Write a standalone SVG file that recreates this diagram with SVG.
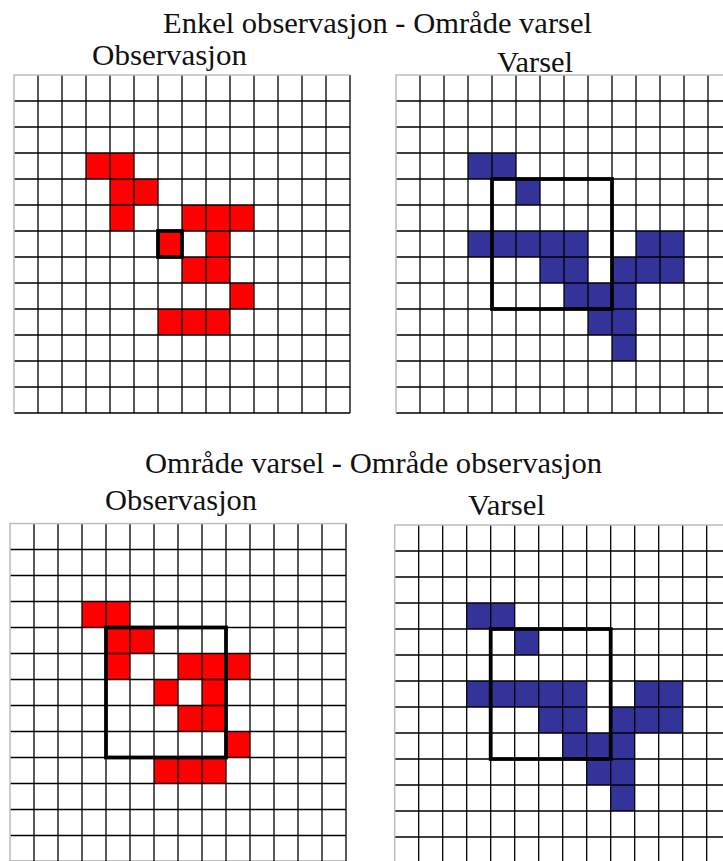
<svg xmlns="http://www.w3.org/2000/svg" xmlns:xlink="http://www.w3.org/1999/xlink" width="723" height="861" viewBox="0 0 723 861">
<style>
.t{font-family:"Liberation Serif","Times New Roman",serif;font-size:30px;fill:#111}
.grid{fill:none;stroke:#000;stroke-width:1.3}
.edge{fill:none;stroke:#bdbdbd;stroke-width:1.5}
.red{fill:#ff0000}
.blue{fill:#333399}
.box{fill:none;stroke:#000;stroke-width:3.8}
</style>
<defs>
<g id="gridlines">
<path class="grid" d="M24 0V338M48 0V338M72 0V338M96 0V338M120 0V338M144 0V338M168 0V338M192 0V338M216 0V338M240 0V338M264 0V338M288 0V338M312 0V338M336 0V338M0 26H336M0 52H336M0 78H336M0 104H336M0 130H336M0 156H336M0 182H336M0 208H336M0 234H336M0 260H336M0 286H336M0 312H336M0 338H336"/>
<path class="edge" d="M0 338V0H336"/>
</g>
<path id="redcells" class="red" d="M72 78h24v26h-24zM96 78h24v26h-24zM96 104h24v26h-24zM120 104h24v26h-24zM96 130h24v26h-24zM168 130h24v26h-24zM192 130h24v26h-24zM216 130h24v26h-24zM144 156h24v26h-24zM192 156h24v26h-24zM168 182h24v26h-24zM192 182h24v26h-24zM216 208h24v26h-24zM144 234h24v26h-24zM168 234h24v26h-24zM192 234h24v26h-24z"/>
<path id="bluecells" class="blue" d="M72 78h24v26h-24zM96 78h24v26h-24zM120 104h24v26h-24zM72 156h24v26h-24zM96 156h24v26h-24zM120 156h24v26h-24zM144 156h24v26h-24zM168 156h24v26h-24zM240 156h24v26h-24zM264 156h24v26h-24zM144 182h24v26h-24zM168 182h24v26h-24zM216 182h24v26h-24zM240 182h24v26h-24zM264 182h24v26h-24zM168 208h24v26h-24zM192 208h24v26h-24zM216 208h24v26h-24zM192 234h24v26h-24zM216 234h24v26h-24zM216 260h24v26h-24z"/>
<rect id="areabox" class="box" x="96" y="104" width="120" height="130"/>
</defs>
<rect width="723" height="861" fill="#fff"/>
<g id="titles">
<text class="t" x="163" y="33" textLength="429" lengthAdjust="spacingAndGlyphs">Enkel observasjon - Område varsel</text>
<text class="t" x="145" y="473" textLength="457" lengthAdjust="spacingAndGlyphs">Område varsel - Område observasjon</text>
</g>
<g id="panel-obs-1">
<text class="t" x="92" y="65" textLength="155" lengthAdjust="spacingAndGlyphs">Observasjon</text>
<g transform="translate(14,75)">
<use xlink:href="#redcells"/>
<use xlink:href="#gridlines"/>
<rect class="box" x="144" y="156" width="24" height="26"/>
</g>
</g>
<g id="panel-var-1">
<text class="t" x="497" y="72" textLength="76" lengthAdjust="spacingAndGlyphs">Varsel</text>
<g transform="translate(396,75)">
<use xlink:href="#bluecells"/>
<use xlink:href="#gridlines"/>
<use xlink:href="#areabox"/>
</g>
</g>
<g id="panel-obs-2">
<text class="t" x="105" y="510" textLength="152" lengthAdjust="spacingAndGlyphs">Observasjon</text>
<g transform="translate(10,523.5)">
<use xlink:href="#redcells"/>
<use xlink:href="#gridlines"/>
<use xlink:href="#areabox"/>
</g>
</g>
<g id="panel-var-2">
<text class="t" x="468" y="515" textLength="77" lengthAdjust="spacingAndGlyphs">Varsel</text>
<g transform="translate(394.7,525)">
<use xlink:href="#bluecells"/>
<use xlink:href="#gridlines"/>
<use xlink:href="#areabox"/>
</g>
</g>
<g id="connectors"/>
</svg>
